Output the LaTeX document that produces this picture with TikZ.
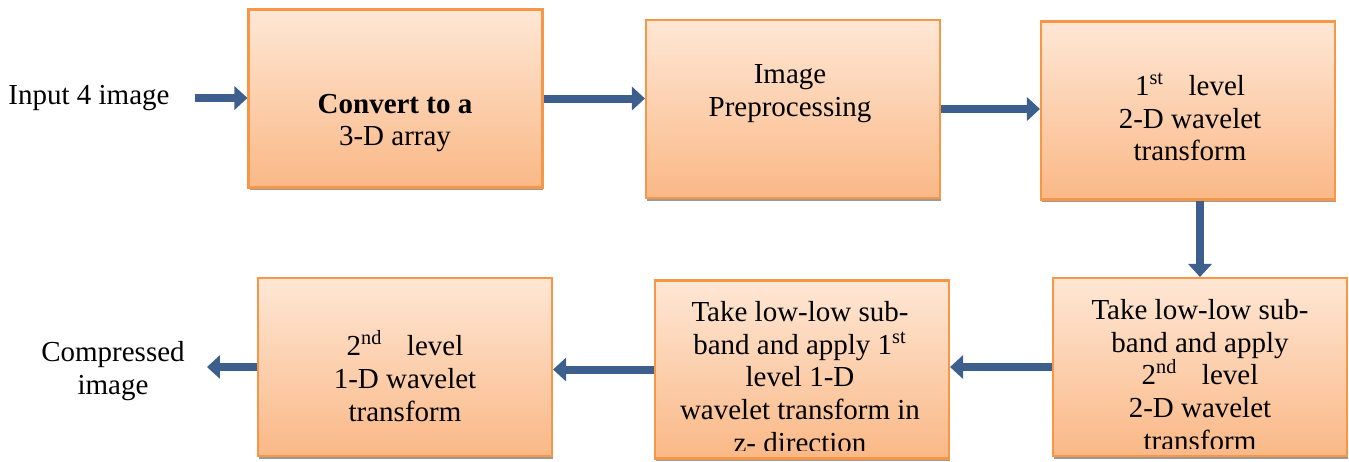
\documentclass[tikz,border=0pt]{standalone}
\usepackage{fontspec}
\setmainfont{Liberation Serif}
\usetikzlibrary{arrows.meta,shadows}
\definecolor{boxorange}{HTML}{F79646}
\definecolor{boxtop}{HTML}{FEE7D5}
\definecolor{boxbottom}{HTML}{FAB886}
\definecolor{shadowgray}{HTML}{9A9A9A}
\definecolor{arrowblue}{HTML}{3C5F8D}

\begin{document}
\begin{tikzpicture}[x=0.02cm, y=-0.02cm]
  \tikzset{
    stage_box/.style={rectangle, draw=boxorange, line width=1.2pt, top color=boxtop, bottom color=boxbottom,
      minimum width=5.88cm, minimum height=3.56cm, inner sep=0pt,
      drop shadow={shadow xshift=0.02cm, shadow yshift=-0.06cm, fill=shadowgray, opacity=1}},
    stage_text/.style={align=center, font=\fontsize{16.5}{18.7}\selectfont, inner sep=0pt},
    side_text/.style={align=center, font=\fontsize{16.5}{18.7}\selectfont, inner sep=0pt},
    flow_arrow/.style={draw=arrowblue, line width=0.16cm, -{Triangle[width=0.46cm, length=0.26cm]}}
  }

  % Bounding box como la figura original
  \useasboundingbox (0,0) rectangle (1349,461);

  % Fila superior
  \node[stage_box] (convert) at (395.5,98.5) {};
  \node[stage_box] (prep) at (793,109) {};
  \node[stage_box] (level_one) at (1188,110.5) {};

  % Fila inferior
  \node[stage_box] (level_two) at (1200,367) {};
  \node[stage_box] (z_dir) at (802,369.5) {};
  \node[stage_box] (level_last) at (405,367) {};

  % Textos de las cajas
  \node[stage_text] (convert_txt) at (395,123) {\textbf{Convert to a}\\3-D array};
  \node[stage_text] (prep_txt) at (790,94) {Image\\Preprocessing};
  \node[stage_text] (level_one_txt) at (1190,117) {1\textsuperscript{st}\hspace{0.6em} level\\2-D wavelet\\transform};
  \node[stage_text] (level_last_txt) at (405,376) {2\textsuperscript{nd}\hspace{0.6em} level\\1-D wavelet\\transform};

  % Textos recortados por el borde inferior
  \begin{scope}
    \clip (level_two.north west) rectangle ([yshift=0.18cm]level_two.south east);
    \node[stage_text] (level_two_txt) at (1200,375) {Take low-low sub-\\band and apply\\2\textsuperscript{nd}\hspace{0.6em} level\\2-D wavelet\\transform};
  \end{scope}
  \begin{scope}
    \clip (z_dir.north west) rectangle ([yshift=0.18cm]z_dir.south east);
    \node[stage_text] (z_dir_txt) at (800,377) {Take low-low sub-\\band and apply 1\textsuperscript{st}\\level 1-D\\wavelet transform in\\z- direction};
  \end{scope}

  % Entrada y salida
  \node[side_text] (input) at (89,98) {Input 4 image};
  \node[side_text] (output) at (113,371) {Compressed\\image};

  % Flechas
  \draw[flow_arrow] ([xshift=0.5cm]input.east) -- (input.east -| convert.west);
  \draw[flow_arrow] (convert.east) -- (convert.east -| prep.west);
  \draw[flow_arrow] (prep.east) -- (prep.east -| level_one.west);
  \draw[flow_arrow] (level_one.south -| level_two.north) -- (level_two.north);
  \draw[flow_arrow] (level_two.west) -- (level_two.west -| z_dir.east);
  \draw[flow_arrow] (z_dir.west) -- (z_dir.west -| level_last.east);
  \draw[flow_arrow] (level_last.west) -- ([xshift=-1cm]level_last.west);
\end{tikzpicture}
\end{document}
